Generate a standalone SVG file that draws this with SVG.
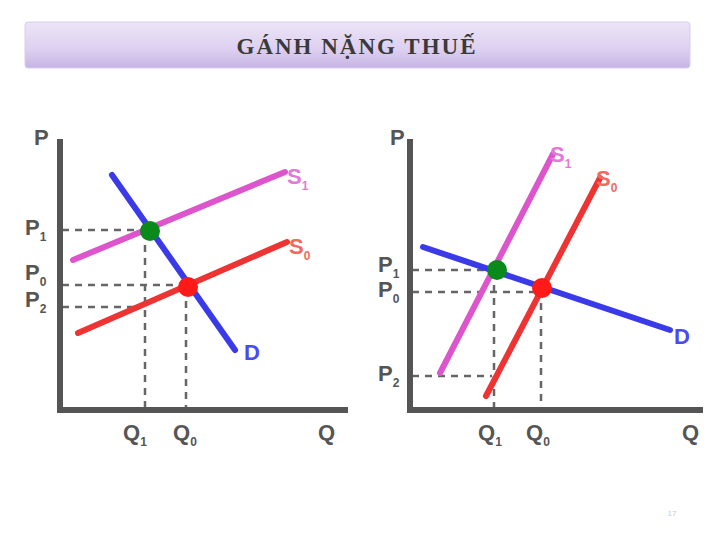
<svg xmlns="http://www.w3.org/2000/svg" width="720" height="540" viewBox="0 0 720 540">
  <defs>
    <linearGradient id="titleGrad" x1="0" y1="0" x2="0" y2="1">
      <stop offset="0" stop-color="#ece4f7"/>
      <stop offset="0.6" stop-color="#ddd0f0"/>
      <stop offset="1" stop-color="#c6b3e4"/>
    </linearGradient>
  </defs>
  <style>
    .axis { stroke: #555; stroke-width: 6; fill: none; stroke-linecap: square; }
    .s1 { stroke: #dd55cc; stroke-width: 6; fill: none; stroke-linecap: round; }
    .s0 { stroke: #ee3333; stroke-width: 6; fill: none; stroke-linecap: round; }
    .d { stroke: #3a3ae8; stroke-width: 6; fill: none; stroke-linecap: round; }
    .dash { stroke: #666; stroke-width: 2.5; stroke-dasharray: 7 6; fill: none; }
    .lbl { font-family: "Liberation Sans", Arial, sans-serif; font-weight: bold; font-size: 22px; fill: #555; }
    .sub { font-size: 12px; }
    .ls1 { fill: #e07ad6; }
    .ls0 { fill: #f06a60; }
    .ld { fill: #4a4af0; }
    .title { font-family: "Liberation Serif", "Times New Roman", serif; font-weight: bold; font-size: 23px; fill: #3a3a3a; letter-spacing: 2px; }
  </style>
  <rect width="720" height="540" fill="#ffffff"/>

  <g id="title">
    <rect x="25" y="22" width="665" height="46" rx="3" fill="url(#titleGrad)" stroke="#d8cdea" stroke-width="1"/>
    <text class="title" x="357" y="54" text-anchor="middle">GÁNH NẶNG THUẾ</text>
  </g>

  <g id="left-graph">
    <g id="left-dashes">
      <line class="dash" x1="62" y1="230" x2="150" y2="230"/>
      <line class="dash" x1="62" y1="285" x2="188" y2="285"/>
      <line class="dash" x1="62" y1="307" x2="138" y2="307"/>
      <line class="dash" x1="145" y1="232" x2="145" y2="408"/>
      <line class="dash" x1="186" y1="288" x2="186" y2="408"/>
    </g>
    <g id="left-axes">
      <polyline class="axis" points="60,142 60,410 345,410"/>
    </g>
    <g id="left-curves">
      <line class="s1" x1="73" y1="260" x2="285" y2="172"/>
      <line class="s0" x1="78" y1="333" x2="287" y2="242"/>
      <line class="d" x1="112" y1="175" x2="235" y2="350"/>
    </g>
    <g id="left-points">
      <circle cx="150" cy="231" r="10" fill="#0a8a1a"/>
      <circle cx="188" cy="287" r="10" fill="#ff1a1a"/>
    </g>
    <g id="left-labels">
      <text class="lbl" x="34" y="145">P</text>
      <text class="lbl" x="25" y="235">P<tspan class="sub" dy="6">1</tspan></text>
      <text class="lbl" x="25" y="280">P<tspan class="sub" dy="6">0</tspan></text>
      <text class="lbl" x="25" y="307">P<tspan class="sub" dy="6">2</tspan></text>
      <text class="lbl" x="123" y="440">Q<tspan class="sub" dy="6">1</tspan></text>
      <text class="lbl" x="173" y="440">Q<tspan class="sub" dy="6">0</tspan></text>
      <text class="lbl" x="318" y="440">Q</text>
      <text class="lbl ls1" x="287" y="184">S<tspan class="sub" dy="6">1</tspan></text>
      <text class="lbl ls0" x="289" y="254">S<tspan class="sub" dy="6">0</tspan></text>
      <text class="lbl ld" x="244" y="360">D</text>
    </g>
  </g>

  <g id="right-graph">
    <g id="right-dashes">
      <line class="dash" x1="412" y1="270" x2="497" y2="270"/>
      <line class="dash" x1="412" y1="292" x2="542" y2="292"/>
      <line class="dash" x1="412" y1="376" x2="492" y2="376"/>
      <line class="dash" x1="494" y1="272" x2="494" y2="408"/>
      <line class="dash" x1="541" y1="290" x2="541" y2="408"/>
    </g>
    <g id="right-axes">
      <polyline class="axis" points="410,142 410,410 700,410"/>
    </g>
    <g id="right-curves">
      <line class="d" x1="423" y1="247" x2="670" y2="330"/>
      <line class="s1" x1="440" y1="373" x2="553" y2="154"/>
      <line class="s0" x1="486" y1="396" x2="600" y2="178"/>
    </g>
    <g id="right-points">
      <circle cx="497" cy="270" r="10" fill="#0a8a1a"/>
      <circle cx="542" cy="288" r="10" fill="#ff1a1a"/>
    </g>
    <g id="right-labels">
      <text class="lbl" x="390" y="145">P</text>
      <text class="lbl" x="378" y="272">P<tspan class="sub" dy="6">1</tspan></text>
      <text class="lbl" x="378" y="297">P<tspan class="sub" dy="6">0</tspan></text>
      <text class="lbl" x="378" y="381">P<tspan class="sub" dy="6">2</tspan></text>
      <text class="lbl" x="478" y="440">Q<tspan class="sub" dy="6">1</tspan></text>
      <text class="lbl" x="526" y="440">Q<tspan class="sub" dy="6">0</tspan></text>
      <text class="lbl" x="682" y="440">Q</text>
      <text class="lbl ls1" x="550" y="162">S<tspan class="sub" dy="6">1</tspan></text>
      <text class="lbl ls0" x="596" y="186">S<tspan class="sub" dy="6">0</tspan></text>
      <text class="lbl ld" x="674" y="344">D</text>
    </g>
  </g>

  <g id="page-number">
    <text x="672" y="516" font-family="Liberation Sans, Arial, sans-serif" font-size="8" fill="#c8c8c8" text-anchor="middle">17</text>
  </g>
</svg>
